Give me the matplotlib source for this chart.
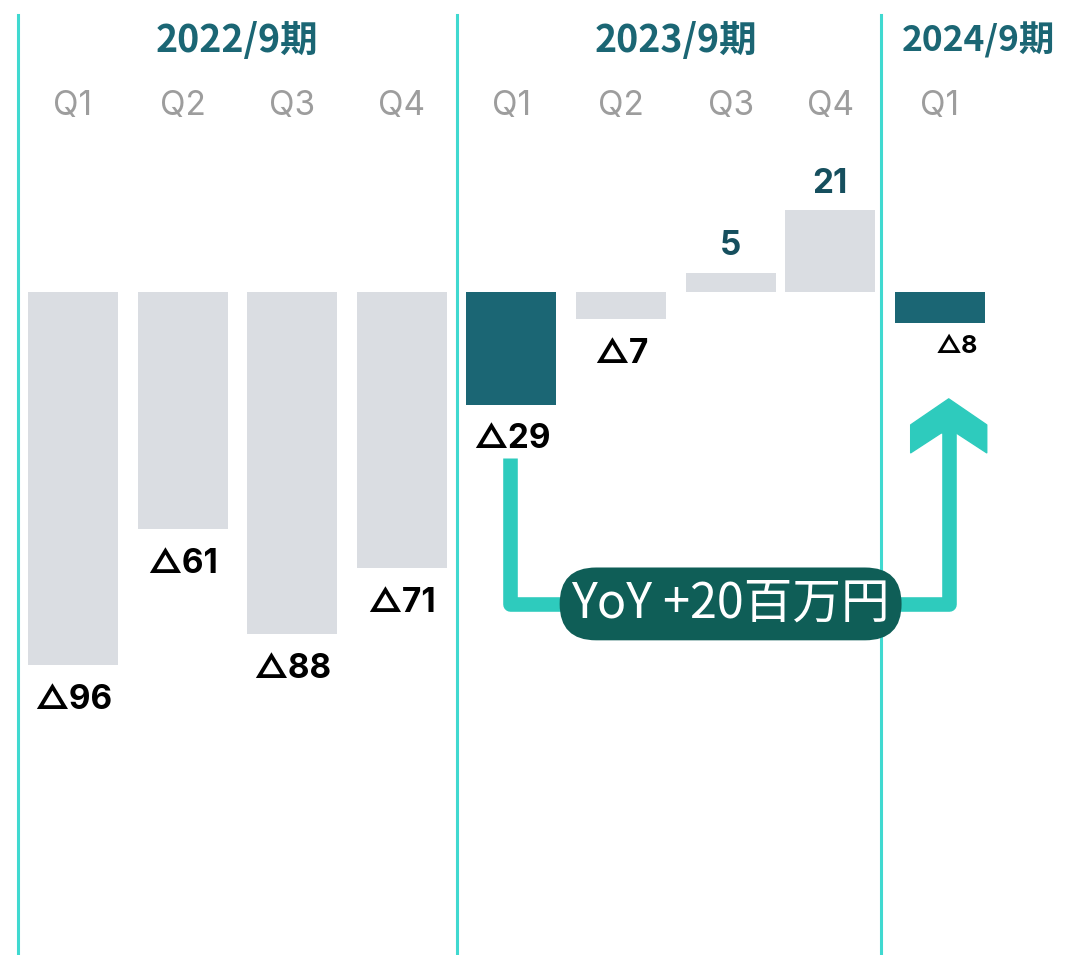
import matplotlib
matplotlib.use("Agg")
import matplotlib.pyplot as plt
from matplotlib.patches import Polygon

# データ（百万円）
periods = ["2022/9期", "2023/9期", "2024/9期"]
quarters = ["Q1", "Q2", "Q3", "Q4", "Q1", "Q2", "Q3", "Q4", "Q1"]
values = [-96, -61, -88, -71, -29, -7, 5, 21, -8]
highlight = [False, False, False, False, True, False, False, False, True]
yoy_text = "YoY +20百万円"

# 棒の横位置（レイアウト）
x_pos = [0, 1, 2, 3, 4, 5, 6, 6.91, 7.91]

GRAY = "#dadde2"
DARK = "#1b6674"
LINE = "#40d9d0"
ARROW = "#2ecbbd"
BOX = "#0f5e57"
JP = ["Noto Sans CJK JP", "DejaVu Sans"]
NUM = ["Inter", "Noto Sans CJK JP", "DejaVu Sans"]

fig = plt.figure(figsize=(10.65, 9.55), dpi=100)
ax = fig.add_axes([0, 0, 1, 1])
ax.set_xlim(-0.666, 9.051)
ax.set_ylim(-170.7, 75.2)
ax.axis("off")

colors = [DARK if h else GRAY for h in highlight]
ax.bar(x_pos, values, width=0.82, color=colors, zorder=2)

# 区切り線
for xv in [-0.5, 3.5, 7.372]:
    ax.plot([xv, xv], [-171, 71.3], color=LINE, lw=2.2, zorder=1)

# 期の見出し
hdr = dict(va="center", fontweight="bold", color=DARK, family=JP)
ax.text(1.5, 64.9, periods[0], ha="center", fontsize=27, **hdr)
ax.text(5.5, 64.9, periods[1], ha="center", fontsize=27, **hdr)
ax.text(7.56, 64.9, periods[2], ha="left", fontsize=25.5, **hdr)

# 四半期ラベル
for xp, q in zip(x_pos, quarters):
    ax.text(xp, 47.8, q, ha="center", va="center", fontsize=24,
            color="#9d9d9d", family=NUM)

# 値ラベル
for i, (xp, v) in enumerate(zip(x_pos, values)):
    if v >= 0:
        ax.annotate(str(v), (xp, v), xytext=(0, 19), textcoords="offset points",
                    ha="center", va="center", fontsize=24, fontweight="bold",
                    color="#164f5e", family=NUM)
    else:
        size = 18 if i == 8 else 24
        off = -17 if i == 8 else -25
        dx = 12 if i == 8 else 0
        ax.annotate("△" + str(-v), (xp, v), xytext=(dx, off),
                    textcoords="offset points", ha="center", va="center",
                    fontsize=size, fontweight="bold", color="black", family=NUM)

# YoY 矢印
ax_l = x_pos[4] - 0.014
ax_r = x_pos[8] + 0.08
y_start = -42.7
y_base = -80.3
ax.plot([ax_l, ax_l, ax_r, ax_r], [y_start, y_base, y_base, -36.0],
        color=ARROW, lw=10.5, solid_joinstyle="round", solid_capstyle="butt",
        zorder=3)
head = [(ax_r, -27.5), (ax_r + 0.347, -34.2), (ax_r + 0.347, -41.4),
        (ax_r + 0.07, -36.3), (ax_r - 0.07, -36.3), (ax_r - 0.347, -41.4),
        (ax_r - 0.347, -34.2)]
ax.add_patch(Polygon(head, closed=True, facecolor=ARROW, edgecolor=ARROW,
                     lw=1, joinstyle="round", zorder=3))

ax.text(6.0, y_base, yoy_text, ha="center", va="center", fontsize=35,
        color="white", family=JP, zorder=5,
        bbox=dict(boxstyle="round,pad=0.24,rounding_size=0.75",
                  facecolor=BOX, edgecolor="none"))

fig.savefig("out.png", dpi=100)
